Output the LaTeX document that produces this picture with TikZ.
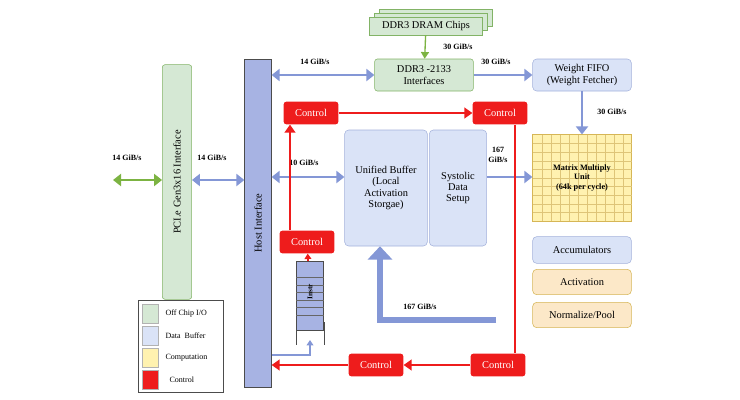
\documentclass[tikz,border=0pt]{standalone}
\usepackage{fontspec}
\setmainfont{Liberation Serif}
\usetikzlibrary{arrows.meta,positioning}
\definecolor{offG}{HTML}{D5E8D4}\definecolor{offGd}{HTML}{82B366}
\definecolor{bufB}{HTML}{DAE3F7}\definecolor{bufBd}{HTML}{A3B1DB}
\definecolor{hostB}{HTML}{A7B3E3}\definecolor{arrB}{HTML}{8497D6}
\definecolor{compY}{HTML}{FFF2B0}\definecolor{compYd}{HTML}{D6B656}
\definecolor{actO}{HTML}{FCE8C8}\definecolor{ctrlR}{HTML}{EE1C1C}
\definecolor{arrG}{HTML}{7CB342}
\begin{document}
\begin{tikzpicture}[x=0.75pt,y=-0.75pt,font=\fontsize{7.8}{8.6}\selectfont,
  lbl/.style={font=\bfseries\fontsize{6}{7}\selectfont},
  offchip/.style={draw=offGd,fill=offG,rounded corners=2pt,align=center},
  buffer/.style={draw=bufBd,fill=bufB,rounded corners=3pt,align=center},
  ctrl/.style={fill=ctrlR,text=white,rounded corners=2pt,minimum width=41pt,minimum height=17pt},
  barr/.style={arrB,line width=2.2pt,-{Triangle[length=6pt,width=9pt]}},
  dbarr/.style={barr,{Triangle[length=6pt,width=9pt]}-{Triangle[length=6pt,width=9pt]}},
  rarr/.style={ctrlR,line width=1.6pt,-{Triangle[length=6pt,width=8pt]}}]
\useasboundingbox (0,0) rectangle (740,400);
% off chip
\node[offchip,minimum width=22pt,minimum height=176pt] (pcie) at (177,182) {};
\node[rotate=90] at (pcie) {PCI.e Gen3x16 Interface};
\node[draw=black!70,fill=hostB,minimum width=20pt,minimum height=246pt] (host) at (258,223) {};
\node[rotate=90] at (host) {Host Interface};
\coordinate (ext) at (113,180);
\draw[arrG,line width=2.2pt,{Triangle[length=6pt,width=9pt]}-{Triangle[length=6pt,width=9pt]}] (ext) -- (pcie.west |- ext);
\node[lbl] at (127,158) {14 GiB/s};
\draw[dbarr] (pcie.east |- ext) -- (host.west |- ext);
\node[lbl] at (212,158) {14 GiB/s};
% DRAM
\foreach \d in {10,5}
  \node[offchip,rounded corners=0pt,minimum width=85pt,minimum height=13pt] at (426+\d,26-\d*0.8) {};
\node[offchip,rounded corners=0pt,minimum width=85pt,minimum height=13pt] (dram) at (426,26) {DDR3 DRAM Chips};
\node[offchip,minimum width=74pt,minimum height=24pt] (ddr) at (424,75) {DDR3 -2133\\Interfaces};
\draw[arrG,line width=1pt,-{Triangle[length=5pt,width=6pt]}] (dram) -- (ddr);
\node[lbl] at (458,47) {30 GiB/s};
\node[buffer,minimum width=74pt,minimum height=24pt] (fifo) at (582,75) {Weight FIFO\\(Weight Fetcher)};
\draw[dbarr] (host.east |- ddr) -- (ddr);
\node[lbl] at (315,62) {14 GiB/s};
\draw[barr] (ddr) -- (fifo);
\node[lbl] at (496,62) {30 GiB/s};
% matrix
\node[draw=compYd,fill=compY,minimum width=74pt,minimum height=65pt] (mmu) at (582,178) {};
\foreach \i in {1,...,10} \draw[compYd!80,line width=0.4pt] (533+\i*9,135) -- (533+\i*9,221);
\foreach \i in {1,...,9} \draw[compYd!80,line width=0.4pt] (533,135+\i*8.6) -- (632,135+\i*8.6);
\node[font=\bfseries\fontsize{6.2}{7.4}\selectfont,align=center] at (mmu) {Matrix Multiply\\Unit\\(64k per cycle)};
\draw[barr] (fifo) -- (mmu);
\node[lbl] at (612,112) {30 GiB/s};
% buffers
\node[buffer,minimum width=62pt,minimum height=87pt] (ub) at (386,188) {Unified Buffer\\(Local\\Activation\\Storgae)};
\node[buffer,minimum width=43pt,minimum height=87pt] (sds) at (458,188) {Systolic\\Data\\Setup};
\draw[barr] (sds.east |- 0,177) -- (mmu.west |- 0,177);
\node[lbl,align=center] at (498,155) {167\\GiB/s};
\draw[dbarr] (host.east |- 0,177) -- (ub.west |- 0,177);
\node[lbl] at (304,163) {10 GiB/s};
\node[buffer,minimum width=74pt,minimum height=20pt] (acc) at (582,250) {Accumulators};
\node[draw=compYd,fill=actO,rounded corners=3pt,minimum width=74pt,minimum height=19pt] (act) at (582,282) {Activation};
\node[draw=compYd,fill=actO,rounded corners=3pt,minimum width=74pt,minimum height=19pt] (norm) at (582,315) {Normalize/Pool};
\coordinate (ret) at (496,320);
\draw[arrB,line width=5pt,-{Triangle[length=10pt,width=18pt]}] (ret) -- (380,320) -- (ub.south -| 380,0);
\node[lbl] at (420,307) {167 GiB/s};
% control
\node[ctrl] (c1) at (311,113) {Control};
\node[ctrl] (c2) at (500,113) {Control};
\node[ctrl] (c3) at (307,242) {Control};
\node[ctrl] (c4) at (376,365) {Control};
\node[ctrl] (c5) at (498,365) {Control};
\draw[rarr] (c1) -- (c2);
\draw[rarr] (c3.north -| 290,0) -- (c1.south -| 290,0);
\draw[ctrlR,line width=1.6pt] (c2.south -| 515,0) -- (c5.north -| 515,0);
\draw[rarr] (c5) -- (c4);
\draw[rarr] (c4) -- (host.east |- c4);
% instruction queue
\node[draw=black!70,fill=hostB,minimum width=20pt,minimum height=52pt] (instr) at (310,296) {};
\foreach \i in {1,...,6} \draw[black!60,line width=0.3pt] (296,270+\i*7.5) -- (324,270+\i*7.5);
\node[rotate=90,font=\bfseries\fontsize{5.5}{6}\selectfont] at (310,292) {Instr};
\draw[black!70] (296,322) -- (296,345) (324,322) -- (324,345);
\draw[ctrlR,line width=1.2pt,-{Triangle[length=4pt,width=5pt]}] (instr) -- (c3);
\draw[arrB,line width=1pt,-{Triangle[length=4pt,width=5pt]}] (host.east |- 0,355) -- (310,355) -- (310,340);
% legend
\node[draw=black!70,minimum width=64pt,minimum height=69pt] (leg) at (181,346) {};
\foreach \y/\c/\t in {314/offG/{Off Chip I/O},336/bufB/{Data\ \ Buffer},358/compY/{Computation},380/ctrlR/{\ \ Control}}{
  \node[draw=black!30,fill=\c,minimum width=12pt,minimum height=14pt] (sw) at (150,\y) {};
  \node[right=2pt of sw,font=\fontsize{6}{7}\selectfont] {\t};}
\end{tikzpicture}
\end{document}
